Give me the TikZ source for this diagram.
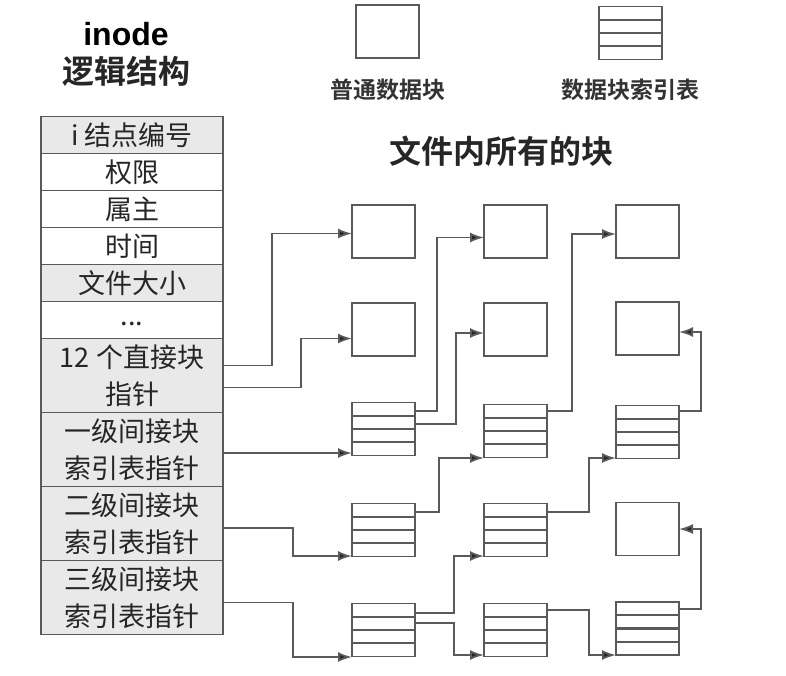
\documentclass[tikz,border=0pt]{standalone}
\usepackage{fontspec}
\setmainfont{Liberation Sans}
\newfontfamily\cjk{Noto Sans CJK SC}[BoldFont={Noto Sans CJK SC Bold}]
\usepackage{xcolor}
\usepackage{tikz}
\usetikzlibrary{positioning,calc,arrows.meta}
\definecolor{rowgray}{HTML}{E9E9E9}
\definecolor{linegray}{HTML}{5A5A5A}

\begin{document}
\begin{tikzpicture}[x=0.5pt,y=-0.5pt,
       cell/.style={
           draw=linegray,
           line width=0.9pt,
           fill=white,
           minimum width=91pt,
           minimum height=18.5pt,
           inner sep=0pt,
           outer sep=0pt,
           align=center,
           text=black!85,
           font=\cjk\fontsize{13.5}{18.5}\selectfont
       },
       grey/.style={cell, fill=rowgray},
       twoline/.style={grey, minimum height=37pt},
       datablk/.style={
           draw=linegray,
           line width=0.9pt,
           fill=white,
           minimum width=31.5pt,
           minimum height=26.5pt,
           inner sep=0pt,
           outer sep=0pt
       },
       idxblk/.style={
           datablk,
           path picture={
               \foreach \k in {0.25,0.5,0.75}
                   \draw[linegray, line width=1.1pt]
                       ($(path picture bounding box.north west)!\k!(path picture bounding box.south west)$) --
                       ($(path picture bounding box.north east)!\k!(path picture bounding box.south east)$);
           }
       },
       arr/.style={draw=linegray, line width=0.9pt, -{Latex[length=7pt,width=5pt,fill=black!85]}},
       caption/.style={font=\cjk\bfseries\fontsize{11.5}{14}\selectfont, text=black!80}
   ]

   \useasboundingbox (0,0) rectangle (786,675);

   % Title of the inode table
   \node[font=\bfseries\fontsize{16}{18}\selectfont] (inode) at (126,34) {inode};
   \node[font=\cjk\bfseries\fontsize{16}{18}\selectfont, text=black!85] (logic) at (126,71) {逻辑结构};

   % inode table
   \node[grey] (inum) at (132,135) {i 结点编号};
   \node[cell, below=0pt of inum] (perm) {权限};
   \node[cell, below=0pt of perm] (owner) {属主};
   \node[cell, below=0pt of owner] (time) {时间};
   \node[grey, below=0pt of time] (size) {文件大小};
   \node[cell, below=0pt of size] (dots) {\raisebox{-6pt}{...}};
   \node[twoline, below=0pt of dots] (ptr12) {12 个直接块\\指针};
   \node[twoline, below=0pt of ptr12] (ind1) {一级间接块\\索引表指针};
   \node[twoline, below=0pt of ind1] (ind2) {二级间接块\\索引表指针};
   \node[twoline, below=0pt of ind2] (ind3) {三级间接块\\索引表指针};

   % Legend
   \node[datablk] (legdata) at (387.5,31.5) {};
   \node[idxblk] (legidx) at (630.5,33) {};
   \node[caption] (legdatatxt) at (388,90) {普通数据块};
   \node[caption] (legidxtxt) at (630,90) {数据块索引表};
   \node[font=\cjk\bfseries\fontsize{16}{18}\selectfont, text=black!85] (allblk) at (501,151) {文件内所有的块};

   % Column 1
   \node[datablk] (b11) at (383.5,231.5) {};
   \node[datablk] (b12) at (383.5,329.5) {};
   \node[idxblk]  (b13) at (383.5,429) {};
   \node[idxblk]  (b14) at (383.5,530) {};
   \node[idxblk]  (b15) at (383.5,630) {};

   % Column 2
   \node[datablk] (b21) at (515.5,231.5) {};
   \node[datablk] (b22) at (515.5,329.5) {};
   \node[idxblk]  (b23) at (515.5,431) {};
   \node[idxblk]  (b24) at (515.5,530) {};
   \node[idxblk]  (b25) at (515.5,630) {};

   % Column 3
   \node[datablk] (b31) at (647.5,231.5) {};
   \node[datablk] (b32) at (647.5,328.5) {};
   \node[idxblk]  (b33) at (647.5,432) {};
   \node[datablk] (b34) at (647.5,529) {};
   \node[idxblk]  (b35) at (647.5,628.5) {};

   % Pointers out of the inode
   \draw[arr] ($(ptr12.east)+(0,-10)$) -- ++(49,0) |- ($(b11.west)+(0,2)$);
   \draw[arr] ($(ptr12.east)+(0,12)$) -- ++(78,0) |- ($(b12.west)+(0,9)$);
   \draw[arr] ($(ind1.east)+(0,3.5)$) coordinate (s1) -- (s1 -| b13.west);
   \draw[arr] ($(ind2.east)+(0,4.5)$) -- ++(70,0) |- ($(b14.west)+(0,26)$);
   \draw[arr] ($(ind3.east)+(0,5)$) -- ++(70,0) |- ($(b15.west)+(0,27)$);

   % Single indirect
   \draw[arr] ($(b13.east)+(0,-18)$) -- ++(22,0) |- ($(b21.west)+(0,6)$);
   \draw[arr] ($(b13.east)+(0,-5)$) -- ++(41,0) |- ($(b22.west)+(0,3.5)$);
   \draw[arr] ($(b23.east)+(0,-20)$) -- ++(25,0) |- ($(b31.west)+(0,2.5)$);
   \draw[arr] ($(b33.east)+(0,-21)$) -- ++(22,0) |- ($(b32.east)+(0,3.5)$);

   % Double indirect
   \draw[arr] ($(b14.east)+(0,-18)$) -- ++(24,0) |- ($(b23.west)+(0,27)$);
   \draw[arr] ($(b24.east)+(0,-18)$) -- ++(42,0) |- ($(b33.west)+(0,26)$);

   % Triple indirect
   \draw[arr] ($(b15.east)+(0,-17)$) -- ++(39,0) |- ($(b24.west)+(0,26)$);
   \draw[arr] ($(b15.east)+(0,-7)$) -- ++(39,0) |- ($(b25.west)+(0,25)$);
   \draw[arr] ($(b25.east)+(0,-20)$) -- ++(42,0) |- ($(b35.west)+(0,26.5)$);
   \draw[arr] ($(b35.east)+(0,-19.5)$) -- ++(22,0) |- (b34.east);

   \end{tikzpicture}
\end{document}
